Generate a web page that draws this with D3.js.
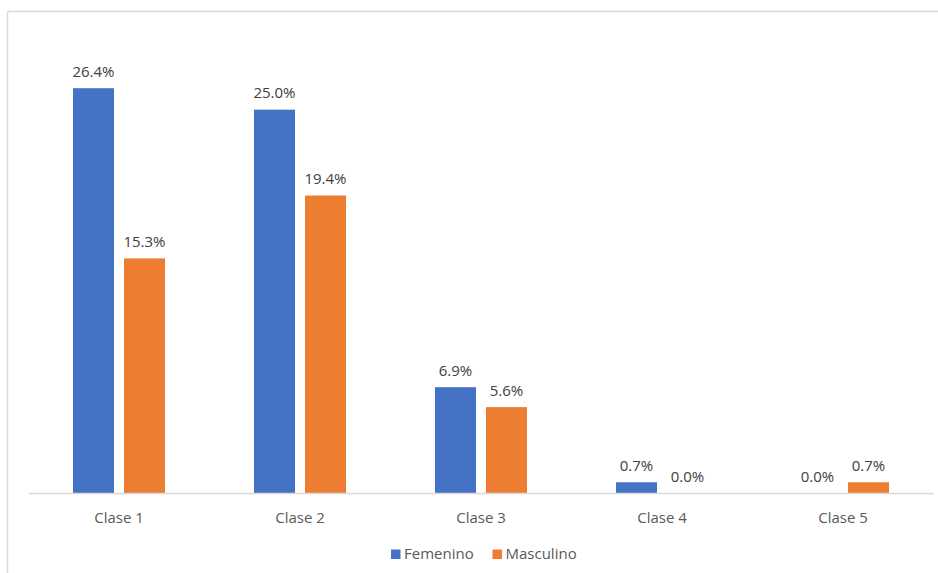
<!DOCTYPE html>
<html>
<head>
<meta charset="utf-8">
<script src="https://cdn.jsdelivr.net/npm/d3@7"></script>
<style>
  html, body { margin: 0; padding: 0; background: #fff; }
  svg { display: block; font-family: "Open Sans", "Liberation Sans", sans-serif; }
</style>
</head>
<body>
<svg id="chart" width="938" height="573"></svg>
<script>
// Category labels and series values (percent)
const categories = ["Clase 1", "Clase 2", "Clase 3", "Clase 4", "Clase 5"];
const seriesNames = ["Femenino", "Masculino"];
const femenino = [26.4, 25.0, 6.9, 0.7, 0.0];
const masculino = [15.3, 19.4, 5.6, 0.0, 0.7];
const seriesColors = ["#4472C4", "#ED7D31"];

const rows = categories.map((c, i) => ({
  category: c,
  values: [
    { series: seriesNames[0], value: femenino[i] },
    { series: seriesNames[1], value: masculino[i] }
  ]
}));

const svg = d3.select("#chart");

// Outer frame (top and left edges visible)
svg.append("line").attr("x1", 7.5).attr("x2", 938).attr("y1", 11.5).attr("y2", 11.5)
  .attr("stroke", "#d9d9d9").attr("stroke-width", 1.5);
svg.append("line").attr("x1", 7.5).attr("x2", 7.5).attr("y1", 11.5).attr("y2", 573)
  .attr("stroke", "#d9d9d9").attr("stroke-width", 1.5);

const x0 = d3.scaleBand().domain(categories).range([28.5, 933.5]).padding(0);
const x1 = d3.scaleBand().domain(seriesNames)
  .range([x0.bandwidth() / 2 - 46, x0.bandwidth() / 2 + 46])
  .paddingInner(0.196).paddingOuter(0);
const y = d3.scaleLinear().domain([0, 30]).range([493, 33]);
const color = d3.scaleOrdinal().domain(seriesNames).range(seriesColors);

// Bars and value labels
const groups = svg.append("g").selectAll("g").data(rows).join("g")
  .attr("transform", d => `translate(${x0(d.category)},0)`);

groups.selectAll("rect").data(d => d.values).join("rect")
  .attr("x", d => x1(d.series))
  .attr("width", x1.bandwidth())
  .attr("y", d => y(d.value))
  .attr("height", d => y(0) - y(d.value))
  .attr("fill", d => color(d.series));

groups.selectAll("text").data(d => d.values).join("text")
  .attr("x", d => x1(d.series) + x1.bandwidth() / 2)
  .attr("y", d => y(d.value) - 11.5)
  .attr("text-anchor", "middle")
  .attr("font-size", 15)
  .attr("fill", "#404040")
  .text(d => d.value.toFixed(1) + "%");

// Category axis
const axis = svg.append("g").attr("transform", `translate(0,${y(0)})`)
  .call(d3.axisBottom(x0).tickSize(0).tickPadding(19));
axis.select(".domain").attr("stroke", "#d9d9d9").attr("stroke-width", 1.3);
axis.selectAll("text").attr("font-size", 15).attr("fill", "#595959")
  .attr("font-family", "\"Open Sans\", \"Liberation Sans\", sans-serif");

// Legend
const legendItems = [
  { name: seriesNames[0], x: 391 },
  { name: seriesNames[1], x: 492.5 }
];
const legend = svg.append("g").selectAll("g").data(legendItems).join("g")
  .attr("transform", d => `translate(${d.x},549.5)`);
legend.append("rect").attr("width", 9.5).attr("height", 9.5)
  .attr("fill", d => color(d.name));
legend.append("text").attr("x", 13).attr("y", 9.5)
  .attr("font-size", 15).attr("fill", "#595959")
  .text(d => d.name);
</script>
</body>
</html>
